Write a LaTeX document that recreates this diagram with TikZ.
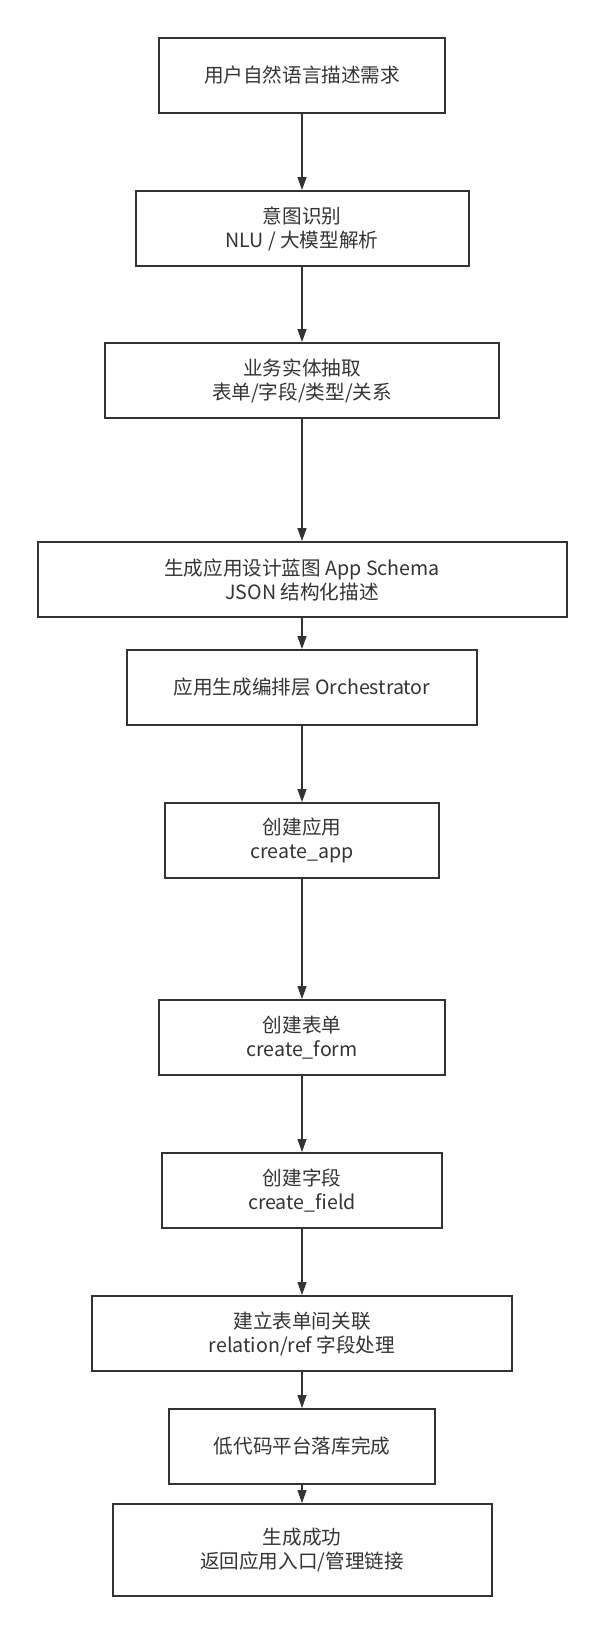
\documentclass[tikz,border=0pt]{standalone}
\usepackage{fontspec}
\setmainfont{Noto Sans CJK SC}
\usetikzlibrary{arrows.meta}
\definecolor{ink}{HTML}{333333}
\tikzset{every path/.style={ink}, stage/.style={draw=ink, line width=2pt, minimum height=75pt, align=center, text=ink, font=\fontsize{19.6}{24}\selectfont}, flow/.style={line width=1.3pt, -{Triangle[length=13pt,width=9pt]}}}

\begin{document}
\begin{tikzpicture}[x=1pt,y=-1pt]
   \useasboundingbox (0,0) rectangle (604,1633);
   \node[stage, minimum width=286pt] (a) at (302,  75.5) {用户自然语言描述需求};
   \node[stage, minimum width=333pt] (b) at (302, 228.5) {意图识别\\NLU / 大模型解析};
   \node[stage, minimum width=394pt] (c) at (302, 380.5) {业务实体抽取\\表单/字段/类型/关系};
   \node[stage, minimum width=529pt] (d) at (302, 579.5) {生成应用设计蓝图\ App Schema\\JSON 结构化描述};
   \node[stage, minimum width=350pt] (e) at (302, 687.5) {应用生成编排层 Orchestrator};
   \node[stage, minimum width=274pt] (f) at (302, 840.5) {创建应用\\create\_app};
   \node[stage, minimum width=286pt] (g) at (302,1037.5) {创建表单\\create\_form};
   \node[stage, minimum width=280pt] (h) at (302,1190.5) {创建字段\\create\_field};
   \node[stage, minimum width=420pt] (i) at (302,1333.5) {建立表单间关联\\relation/ref 字段处理};
   \node[stage, minimum width=266pt] (j) at (302,1446.5) {低代码平台落库完成};
   \node[stage, minimum width=379pt, minimum height=92pt] (k) at (302,1550) {生成成功\\返回应用入口/管理链接};
   \foreach \u/\v in {a/b,b/c,c/d,d/e,e/f,f/g,g/h,h/i,i/j,j/k}
     \draw[flow] (\u) -- (\v);
\end{tikzpicture}
\end{document}
